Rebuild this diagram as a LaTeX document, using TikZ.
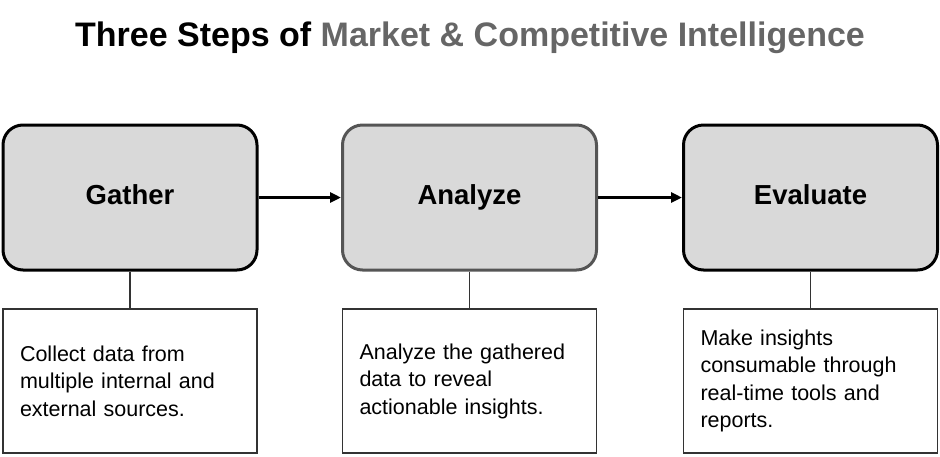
\documentclass[tikz,border=0pt]{standalone}
\usepackage{fontspec}
\setmainfont{Liberation Sans}
\usetikzlibrary{arrows.meta}
\definecolor{boxfill}{HTML}{D9D9D9}
\definecolor{titlegray}{HTML}{666666}
\definecolor{edgegray}{HTML}{555555}
\definecolor{linegray}{HTML}{333333}
\tikzset{
  stepbox/.style={draw=black, line width=3pt, fill=boxfill, rounded corners=20pt,
    minimum width=254pt, minimum height=145pt, text height=20pt, text depth=6pt,
    font=\bfseries\fontsize{27.5}{31}\selectfont},
  descbox/.style={draw=linegray, line width=1.5pt, fill=white, text width=220pt, inner xsep=17pt,
    minimum height=144pt, align=left, font=\fontsize{21.5}{27.5}\selectfont},
  flow/.style={line width=3pt, -{Triangle[length=11pt,width=10pt]}},
  tie/.style={draw=linegray, line width=1.5pt}
}
\begin{document}
\begin{tikzpicture}[x=1pt,y=-1pt]
\useasboundingbox (0,0) rectangle (940,456);
\node (title) at (470,38) {\bfseries\fontsize{34}{38}\selectfont Three Steps of \textcolor{titlegray}{Market \& Competitive Intelligence}};
\node[stepbox] (g) at (130,197.5) {Gather};
\node[stepbox, draw=edgegray] (a) at (469.5,197.5) {Analyze};
\node[stepbox] (e) at (810.5,197.5) {Evaluate};
\node[descbox] (gd) at (130,381) {Collect data from\\multiple internal and\\external sources.};
\node[descbox] (ad) at (469.5,381) {Analyze the gathered\\data to reveal\\actionable insights.};
\node[descbox] (ed) at (810.5,381) {Make insights\\consumable through\\real-time tools and\\reports.};
\draw[flow] (g.east) -- (a.west);
\draw[flow] (a.east) -- (e.west);
\draw[tie] (g.south) -- (gd.north);
\draw[tie] (a.south) -- (ad.north);
\draw[tie] (e.south) -- (ed.north);
\end{tikzpicture}
\end{document}
